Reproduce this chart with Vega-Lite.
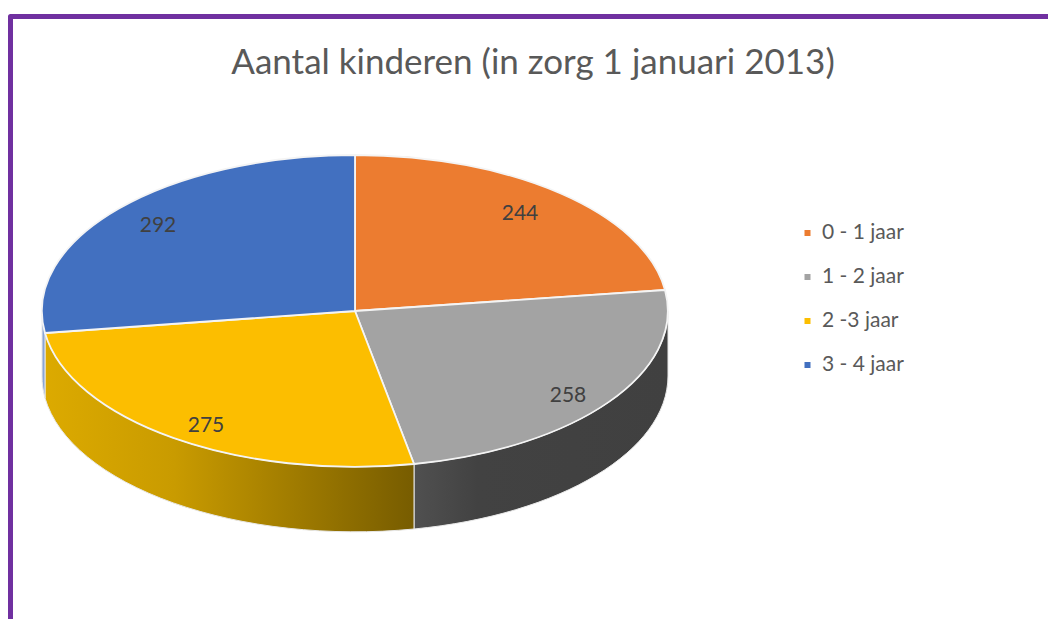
{
"$schema":"https://vega.github.io/schema/vega-lite/v6.json",
"width":626,"height":312,
"autosize":{"type":"none"},
"padding":{"left":42,"top":155,"right":380,"bottom":152},
"background":"#ffffff",
"config":{"view":{"stroke":null}},
"title":{"text":"Aantal kinderen (in zorg 1 januari 2013)","anchor":"middle","frame":"group","dx":178,"offset":-67,"font":"Lato","fontSize":35,"fontWeight":"normal","color":"#595959"},
"data":{"values":[
{"category":"0 - 1 jaar","value":244},
{"category":"1 - 2 jaar","value":258},
{"category":"2 -3 jaar","value":275},
{"category":"3 - 4 jaar","value":292}
]},
"layer":[
{"data":{"values":[{"part":"frame"}]},
 "mark":{"type":"point","shape":"M-344.5,325 L-344.5,-294.5 L705,-294.5","size":4,"filled":false,"stroke":"#7030a0","strokeWidth":5,"strokeJoin":"round","opacity":1}},
{"transform":[{"filter":"datum.category === '1 - 2 jaar'"}],
 "mark":{"type":"point","shape":"M313,0 A313,156 0 0 1 59,153 L59,218 A313,156 0 0 0 313,65 Z","size":4,"filled":true,"opacity":1,"stroke":"#e8e8e8","strokeWidth":1,
 "fill":{"gradient":"linear","x1":0,"x2":1,"y1":0,"y2":0,"stops":[{"offset":0,"color":"#505050"},{"offset":0.25,"color":"#424242"},{"offset":1,"color":"#404040"}]}}},
{"transform":[{"filter":"datum.category === '2 -3 jaar'"}],
 "mark":{"type":"point","shape":"M59,153 A313,156 0 0 1 -310,22 L-310,87 A313,156 0 0 0 59,218 Z","size":4,"filled":true,"opacity":1,"stroke":"#e8e8e8","strokeWidth":1,
 "fill":{"gradient":"linear","x1":0,"x2":1,"y1":0,"y2":0,"stops":[{"offset":0,"color":"#dcaa00"},{"offset":0.35,"color":"#c99b00"},{"offset":1,"color":"#775c00"}]}}},
{"transform":[{"filter":"datum.category === '3 - 4 jaar'"}],
 "mark":{"type":"point","shape":"M-310,22 A313,156 0 0 1 -313,0 L-313,65 A313,156 0 0 0 -310,87 Z","size":4,"filled":true,"opacity":1,"fill":"#8aa6d8","stroke":"#e8e8e8","strokeWidth":1}},
{"mark":{"type":"point","size":4,"filled":true,"opacity":1,"stroke":"#f4f4f4","strokeWidth":1.8},
 "encoding":{
  "color":{"field":"category","type":"nominal",
   "scale":{"domain":["0 - 1 jaar","1 - 2 jaar","2 -3 jaar","3 - 4 jaar"],"range":["#ec7c30","#a3a3a3","#fcbe00","#4270c0"]},
   "legend":{"title":null,"orient":"none","legendX":755,"legendY":56,"symbolType":"square","symbolSize":36,"symbolStrokeWidth":0,"symbolOpacity":1,"labelFont":"Lato","labelFontSize":21,"labelColor":"#595959","labelOffset":4,"clipHeight":44,"rowPadding":0,"labelLimit":200}},
  "shape":{"field":"value","type":"nominal","legend":null,"scale":{"domain":[244,258,275,292],"range":[
   "M0,0 L0,-156 A313,156 0 0 1 310,-21 Z",
   "M0,0 L310,-21 A313,156 0 0 1 59,153 Z",
   "M0,0 L59,153 A313,156 0 0 1 -310,22 Z",
   "M0,0 L-310,22 A313,156 0 0 1 0,-156 Z"]}}
 }},
{"transform":[{"filter":"datum.category === '0 - 1 jaar'"}],"mark":{"type":"text","dx":165,"dy":-97,"font":"Lato","fontSize":21,"color":"#404040","baseline":"middle","align":"center"},"encoding":{"text":{"field":"value","type":"quantitative"}}},
{"transform":[{"filter":"datum.category === '1 - 2 jaar'"}],"mark":{"type":"text","dx":213,"dy":85,"font":"Lato","fontSize":21,"color":"#404040","baseline":"middle","align":"center"},"encoding":{"text":{"field":"value","type":"quantitative"}}},
{"transform":[{"filter":"datum.category === '2 -3 jaar'"}],"mark":{"type":"text","dx":-149,"dy":115,"font":"Lato","fontSize":21,"color":"#404040","baseline":"middle","align":"center"},"encoding":{"text":{"field":"value","type":"quantitative"}}},
{"transform":[{"filter":"datum.category === '3 - 4 jaar'"}],"mark":{"type":"text","dx":-197,"dy":-85,"font":"Lato","fontSize":21,"color":"#404040","baseline":"middle","align":"center"},"encoding":{"text":{"field":"value","type":"quantitative"}}}
]
}
